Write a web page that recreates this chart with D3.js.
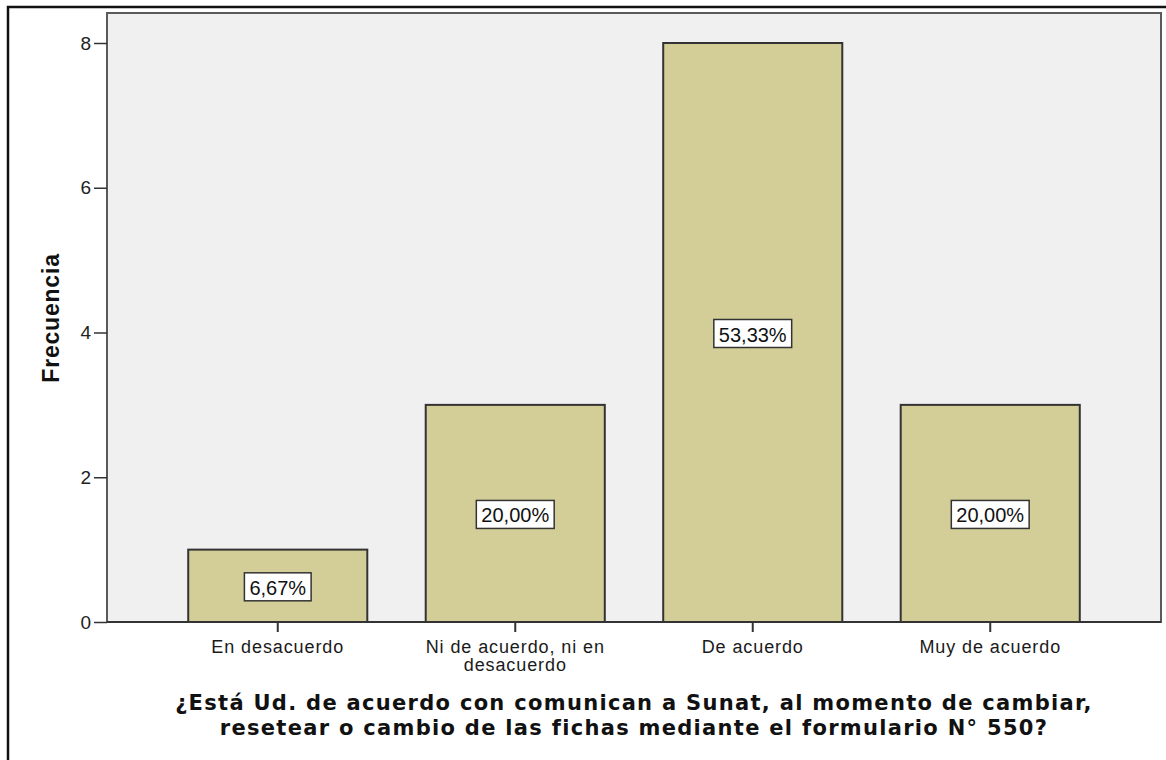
<!DOCTYPE html>
<html><head><meta charset="utf-8">
<script src="https://cdn.jsdelivr.net/npm/d3@7"></script>
<style>
html,body{margin:0;padding:0;background:#fff;}
svg{display:block;}
</style></head>
<body>
<svg id="chart" width="1166" height="760"></svg>
<script>
const categories = [["En desacuerdo"], ["Ni de acuerdo, ni en", "desacuerdo"], ["De acuerdo"], ["Muy de acuerdo"]];
const counts = [1, 3, 8, 3];
const percentLabels = ["6,67%", "20,00%", "53,33%", "20,00%"];
const yTicks = [0, 2, 4, 6, 8];
const yTitle = "Frecuencia";
const xTitle = ["¿Está Ud. de acuerdo con comunican a Sunat, al momento de cambiar,", "resetear o cambio de las fichas mediante el formulario N° 550?"];

const svg = d3.select("#chart");
const L = 107, R = 1161, T = 13, B = 622;

// outer frame
svg.append("rect").attr("x", 8).attr("y", 7).attr("width", 1200).attr("height", 800)
  .attr("fill", "#fff").attr("stroke", "#111").attr("stroke-width", 2.5);

// plot background
svg.append("rect").attr("x", L).attr("y", T).attr("width", R - L).attr("height", B - T)
  .attr("fill", "#f0f0f0");

const x = d3.scaleBand().domain(d3.range(categories.length)).range([L, R])
  .paddingInner(0.246).paddingOuter(0.342);
const y = d3.scaleLinear().domain([0, 8]).range([B, 43]);

// bars
svg.append("g").selectAll("rect").data(counts).join("rect")
  .attr("x", (d, i) => x(i)).attr("y", d => y(d))
  .attr("width", x.bandwidth()).attr("height", d => y(0) - y(d))
  .attr("fill", "#d3ce97").attr("stroke", "#333").attr("stroke-width", 2);

// frame
svg.append("rect").attr("x", L).attr("y", T).attr("width", R - L).attr("height", B - T)
  .attr("fill", "none").attr("stroke", "#5a5a5a").attr("stroke-width", 2);

// y axis
const yAxis = d3.axisLeft(y).tickValues(yTicks).tickSize(13).tickPadding(3).tickFormat(d3.format("d"));
const gy = svg.append("g").attr("transform", `translate(${L},0)`).call(yAxis);
gy.select(".domain").remove();
gy.selectAll(".tick line").attr("stroke", "#333").attr("stroke-width", 1.5);
gy.selectAll(".tick text").attr("font-family", "Liberation Sans, Arial, sans-serif")
  .attr("font-size", 19).attr("fill", "#222");

// x axis
const xAxis = d3.axisBottom(x).tickSize(10).tickPadding(0).tickFormat("");
const gx = svg.append("g").attr("transform", `translate(0,${B})`).call(xAxis);
gx.select(".domain").attr("stroke", "#333").attr("stroke-width", 2).attr("d", `M${L},0H${R}`);
gx.selectAll(".tick line").attr("stroke", "#333").attr("stroke-width", 2);
gx.selectAll(".tick").each(function(d) {
  const t = d3.select(this).append("text")
    .attr("text-anchor", "middle")
    .attr("font-family", "Liberation Sans, Arial, sans-serif")
    .attr("font-size", 18).attr("letter-spacing", 0.9).attr("fill", "#1a1a1a");
  categories[d].forEach((line, k) => {
    t.append("tspan").attr("x", 0).attr("y", 31 + k * 18).text(line);
  });
});

// percent labels
const lab = svg.append("g").selectAll("g").data(counts).join("g")
  .attr("transform", (d, i) => `translate(${x(i) + x.bandwidth() / 2},${(y(d) + y(0)) / 2})`);
lab.each(function(d, i) {
  const g = d3.select(this);
  const r = g.append("rect");
  const t = g.append("text").attr("text-anchor", "middle").attr("y", 9)
    .attr("font-family", "Liberation Sans, Arial, sans-serif").attr("font-size", 20)
    .attr("fill", "#111").text(percentLabels[i]);
  const w = t.node().getComputedTextLength();
  r.attr("x", -w / 2 - 5).attr("y", -13).attr("width", w + 10).attr("height", 28)
    .attr("fill", "#fff").attr("stroke", "#333").attr("stroke-width", 1.5);
});

// y title
svg.append("text").attr("transform", `translate(59,318) rotate(-90)`)
  .attr("text-anchor", "middle").attr("font-family", "Liberation Sans, Arial, sans-serif")
  .attr("font-weight", "bold").attr("font-size", 23).attr("letter-spacing", 0.8)
  .attr("fill", "#111").text(yTitle);

// x title
const xt = svg.append("text").attr("text-anchor", "middle")
  .attr("font-family", "DejaVu Sans, Verdana, sans-serif").attr("font-weight", "bold")
  .attr("font-size", 21).attr("letter-spacing", 1.3).attr("fill", "#111");
xTitle.forEach((line, k) => {
  xt.append("tspan").attr("x", (L + R) / 2).attr("y", 710 + k * 25).text(line);
});
</script>
</body></html>
